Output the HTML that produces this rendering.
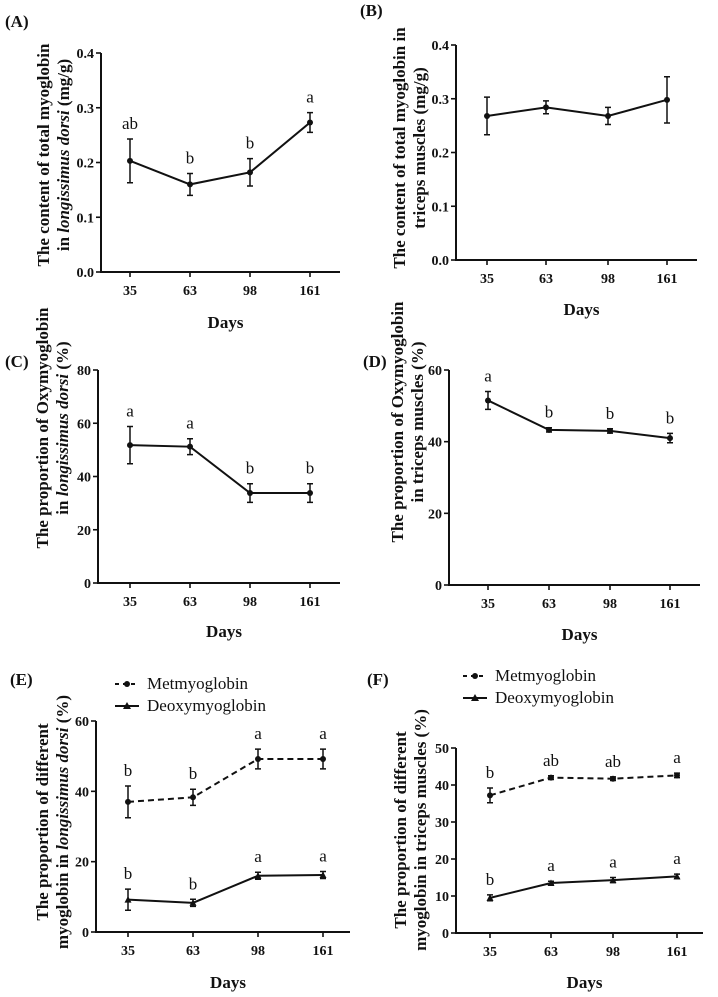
<!DOCTYPE html>
<html><head><meta charset="utf-8"><style>
body{margin:0;background:#fff}
svg{display:block}
text{font-family:"Liberation Serif",serif;fill:#111}
.tick{font-size:14px;font-weight:bold}
.ttl{font-size:17px;font-weight:bold}
.lbl{font-size:17px}
</style></head><body>
<svg id="fig" width="718" height="997" viewBox="0 0 718 997" xmlns="http://www.w3.org/2000/svg"></svg>
<script>
const days = ["35","63","98","161"];
const aVals = [0.203,0.160,0.182,0.273];
const aErr = [0.040,0.020,0.025,0.018];
const aLet = ["ab","b","b","a"];
const bVals = [0.268,0.284,0.268,0.298];
const bErr = [0.035,0.012,0.016,0.043];
const cVals = [51.8,51.2,33.8,33.8];
const cErr = [7,3,3.5,3.5];
const cLet = ["a","a","b","b"];
const dVals = [51.5,43.3,43.0,41.0];
const dErr = [2.5,0.6,0.6,1.3];
const dLet = ["a","b","b","b"];
const eMet = [37.0,38.3,49.2,49.2];
const eMetErr = [4.5,2.3,2.8,2.8];
const eMetLet = ["b","b","a","a"];
const eDeo = [9.2,8.3,16.0,16.2];
const eDeoErr = [3,1,1,1];
const eDeoLet = ["b","b","a","a"];
const fMet = [37.2,42.0,41.7,42.6];
const fMetErr = [2,0.5,0.5,0.6];
const fMetLet = ["b","ab","ab","a"];
const fDeo = [9.5,13.5,14.3,15.3];
const fDeoErr = [0.8,0.5,0.7,0.6];
const fDeoLet = ["b","a","a","a"];
const ticksA = [0,0.1,0.2,0.3,0.4];
const ticksC = [0,20,40,60,80];
const ticksD = [0,20,40,60];
const ticksF = [0,10,20,30,40,50];

const NS="http://www.w3.org/2000/svg";
const svg=document.getElementById('fig');
function el(tag,attrs,parent,txt){const e=document.createElementNS(NS,tag);for(const k in attrs)e.setAttribute(k,attrs[k]);if(txt!==undefined)e.textContent=txt;(parent||svg).appendChild(e);return e;}

function panel(cfg){
  const g=el('g',{});
  
  
  const ymin=cfg.ticks[0], ymax=cfg.ticks[cfg.ticks.length-1];
  const ys=v=>cfg.bottom-(v-ymin)/(ymax-ymin)*(cfg.bottom-cfg.top);
  const xs=i=>cfg.xpos[i];
  const ax=el('path',{d:`M${cfg.x0} ${cfg.top}V${cfg.bottom}H${cfg.xend}`,stroke:'#111','stroke-width':2,fill:'none'},g);
  
  
  cfg.ticks.forEach(t=>{
    el('line',{x1:cfg.x0-5,x2:cfg.x0,y1:ys(t),y2:ys(t),stroke:'#111','stroke-width':1.6},g);
    const tl=el('text',{x:cfg.x0-7,y:ys(t)+5,'text-anchor':'end',class:'tick'},g,cfg.fmt(t));
    
    
  });
  days.forEach((d,i)=>{
    el('line',{x1:xs(i),x2:xs(i),y1:cfg.bottom,y2:cfg.bottom+5,stroke:'#111','stroke-width':1.6},g);
    const tl=el('text',{x:xs(i),y:cfg.bottom+23,'text-anchor':'middle',class:'tick'},g,d);
    
    
  });
  const xt=el('text',{x:(cfg.x0+cfg.xend)/2+5,y:cfg.daysY,'text-anchor':'middle',class:'ttl','font-weight':'normal','font-size':'19'},g,'Days');
  
  
  const pl=el('text',{x:cfg.plx,y:cfg.ply,class:'ttl','font-size':'13'},g,'('+cfg.id.toUpperCase()+')');
  
  
  const yt=el('text',{transform:`translate(${cfg.tx},${cfg.tcy}) rotate(-90)`,'text-anchor':'middle',class:'ttl'},g);
  
  
  el('tspan',{x:0,y:0},yt,cfg.t1);
  const t2=el('tspan',{x:0,y:20},yt);
  cfg.t2.forEach(p=>{el('tspan',p[1]?{'font-style':'italic'}:{},t2,p[0]);});
  cfg.series.forEach((s,si)=>{
    const sg=el('g',{},g);
    
    
    const pts=s.vals.map((v,i)=>xs(i)+','+ys(v)).join(' ');
    const ln=el('polyline',{points:pts,fill:'none',stroke:'#111','stroke-width':2,'stroke-dasharray':s.dash?'6,4':'none'},sg);
    
    
    s.vals.forEach((v,i)=>{
      const x=xs(i),e=s.err[i];
      el('path',{d:`M${x} ${ys(v+e)}V${ys(v-e)}M${x-3} ${ys(v+e)}h6M${x-3} ${ys(v-e)}h6`,stroke:'#111','stroke-width':1.5,fill:'none'},sg);
      const m=s.tri?el('path',{d:`M${x-3.5} ${ys(v)+3}L${x} ${ys(v)-3.5}L${x+3.5} ${ys(v)+3}Z`,fill:'#111'},sg):el('circle',{cx:x,cy:ys(v),r:3,fill:'#111'},sg);
      
      
      if(s.lets){
        const lt=el('text',{x:x,y:ys(v+e)-cfg.letGap,'text-anchor':'middle',class:'lbl'},sg,s.lets[i]);
        
        
      }
    });
  });
  if(cfg.legend){
    const L=cfg.legend;
    const lg=el('g',{},g);
    
    
    el('line',{x1:L.x,x2:L.x+24,y1:L.y,y2:L.y,stroke:'#111','stroke-width':2,'stroke-dasharray':'4,4'},lg);
    el('circle',{cx:L.x+12,cy:L.y,r:3,fill:'#111'},lg);
    el('text',{x:L.x+32,y:L.y+5,class:'lbl'},lg,'Metmyoglobin');
    el('line',{x1:L.x,x2:L.x+24,y1:L.y+L.dy,y2:L.y+L.dy,stroke:'#111','stroke-width':2},lg);
    el('path',{d:`M${L.x+8} ${L.y+L.dy+3}L${L.x+12} ${L.y+L.dy-4}L${L.x+16} ${L.y+L.dy+3}Z`,fill:'#111'},lg);
    el('text',{x:L.x+32,y:L.y+L.dy+5,class:'lbl'},lg,'Deoxymyoglobin');
  }
}
const f1=v=>v.toFixed(1), f0=v=>String(v);
panel({id:'a',x0:101,top:53,bottom:272,xend:340,xpos:[130,190,250,310],ticks:ticksA,fmt:f1,daysY:328,plx:5,ply:27,tx:49,tcy:155,letGap:10,
  t1:'The content of total myoglobin',t2:[['in ',0],['longissimus dorsi',1],[' (mg/g)',0]],
  series:[{name:'total-myoglobin',vals:aVals,err:aErr,lets:aLet}]});
panel({id:'b',x0:456,top:45,bottom:260,xend:697,xpos:[487,546,608,667],ticks:ticksA,fmt:f1,daysY:315,plx:360,ply:16,tx:405,tcy:148,letGap:10,
  t1:'The content of total myoglobin in',t2:[['triceps muscles (mg/g)',0]],
  series:[{name:'total-myoglobin',vals:bVals,err:bErr}]});
panel({id:'c',x0:98,top:370,bottom:583,xend:340,xpos:[130,190,250,310],ticks:ticksC,fmt:f0,daysY:637,plx:5,ply:367,tx:48,tcy:428,letGap:10,
  t1:'The proportion of Oxymyoglobin',t2:[['in ',0],['longissimus dorsi',1],[' (%)',0]],
  series:[{name:'oxymyoglobin',vals:cVals,err:cErr,lets:cLet}]});
panel({id:'d',x0:449,top:370,bottom:585,xend:700,xpos:[488,549,610,670],ticks:ticksD,fmt:f0,daysY:640,plx:363,ply:367,tx:403,tcy:422,letGap:10,
  t1:'The proportion of Oxymyoglobin',t2:[['in triceps muscles (%)',0]],
  series:[{name:'oxymyoglobin',vals:dVals,err:dErr,lets:dLet}]});
panel({id:'e',x0:96,top:721,bottom:932,xend:350,xpos:[128,193,258,323],ticks:ticksD,fmt:f0,daysY:988,plx:10,ply:685,tx:48,tcy:822,letGap:10,
  t1:'The proportion of different',t2:[['myoglobin in ',0],['longissimus dorsi',1],['  (%)',0]],
  legend:{x:115,y:684,dy:22},
  series:[{name:'metmyoglobin',vals:eMet,err:eMetErr,lets:eMetLet,dash:true},{name:'deoxymyoglobin',vals:eDeo,err:eDeoErr,lets:eDeoLet,tri:true}]});
panel({id:'f',x0:456,top:748,bottom:933,xend:703,xpos:[490,551,613,677],ticks:ticksF,fmt:f0,daysY:988,plx:367,ply:685,tx:406,tcy:830,letGap:10,
  t1:'The proportion of different',t2:[['myoglobin in triceps muscles (%)',0]],
  legend:{x:463,y:676,dy:22},
  series:[{name:'metmyoglobin',vals:fMet,err:fMetErr,lets:fMetLet,dash:true},{name:'deoxymyoglobin',vals:fDeo,err:fDeoErr,lets:fDeoLet,tri:true}]});
</script>
</body></html>
